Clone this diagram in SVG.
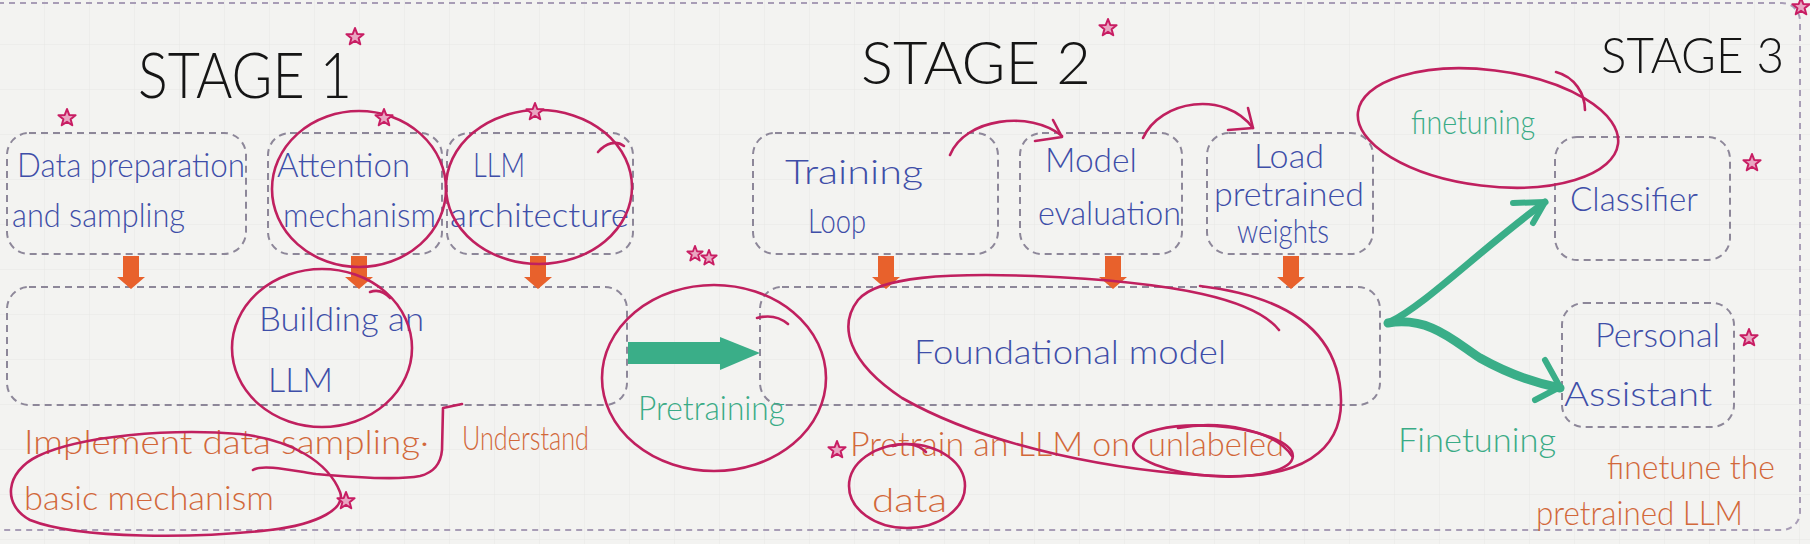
<svg xmlns="http://www.w3.org/2000/svg" xmlns:xlink="http://www.w3.org/1999/xlink" width="1810" height="544" viewBox="0 0 1810 544">
<defs>
<pattern id="grid" width="45" height="45" patternUnits="userSpaceOnUse">
<path d="M45,0 V45 M0,45 H45" fill="none" stroke="#e7e7e5" stroke-width="1"/>
</pattern>
<symbol id="star" viewBox="-10 -10 20 20" overflow="visible">
<polygon points="0,-9 2.23,-3.07 8.56,-2.78 3.61,1.17 5.29,7.28 0,3.8 -5.29,7.28 -3.61,1.17 -8.56,-2.78 -2.23,-3.07" fill="#e9a6c2" stroke="#c81d63" stroke-width="2" stroke-linejoin="round"/>
</symbol>
<path id="oarrow" d="M-8,0 H8 V21 H14 L0,33 L-14,21 H-8 Z" fill="#e8612c"/>
<style>
.box{fill:none;stroke:#8d8799;stroke-width:2;stroke-dasharray:7 5}
.frame{fill:none;stroke:#a89db6;stroke-width:2;stroke-dasharray:6 5}
.t{font-family:Lato,"Open Sans","Liberation Sans",sans-serif;font-weight:300;font-size:34px}
.blue{fill:#3e4ea8}
.orange{fill:#d2683a}
.green{fill:#3aab86}
.title{font-family:Lato,"Open Sans","Liberation Sans",sans-serif;font-weight:300;fill:#151515}
.pink{fill:none;stroke:#c0205f;stroke-width:2.6;stroke-linecap:round;stroke-linejoin:round}
.gstroke{fill:none;stroke:#3aae88;stroke-linecap:round;stroke-linejoin:round}
</style>
</defs>

<rect width="1810" height="544" fill="#f3f3f1"/>
<rect width="1810" height="544" fill="url(#grid)"/>
<rect class="frame" x="-20" y="3" width="1820" height="527" rx="18"/>

<!-- Titles -->
<g id="titles">
<text class="title" x="138" y="98" font-size="64" textLength="214" lengthAdjust="spacingAndGlyphs">STAGE 1</text>
<text class="title" x="861" y="84" font-size="60" textLength="230" lengthAdjust="spacingAndGlyphs">STAGE 2</text>
<text class="title" x="1601" y="73" font-size="50" textLength="183" lengthAdjust="spacingAndGlyphs">STAGE 3</text>
</g>

<!-- Stage 1 nodes -->
<g id="node-data-prep">
<rect class="box" x="7" y="133" width="239" height="121" rx="22"/>
<text class="t blue" x="17" y="177" font-size="33" textLength="228" lengthAdjust="spacingAndGlyphs">Data preparation</text>
<text class="t blue" x="12" y="227" font-size="32" textLength="173" lengthAdjust="spacingAndGlyphs">and sampling</text>
</g>
<g id="node-attention">
<rect class="box" x="268" y="133" width="174" height="121" rx="22"/>
<text class="t blue" x="277" y="177" textLength="133" lengthAdjust="spacingAndGlyphs">Attention</text>
<text class="t blue" x="283" y="227" font-size="33" textLength="153" lengthAdjust="spacingAndGlyphs">mechanism</text>
</g>
<g id="node-llm-arch">
<rect class="box" x="447" y="133" width="186" height="121" rx="22"/>
<text class="t blue" x="473" y="177" textLength="52" lengthAdjust="spacingAndGlyphs">LLM</text>
<text class="t blue" x="450" y="227" font-size="36" textLength="179" lengthAdjust="spacingAndGlyphs">architecture</text>
</g>
<g id="node-building">
<rect class="box" x="7" y="287" width="620" height="118" rx="22"/>
<text class="t blue" x="259" y="331" font-size="36" textLength="165" lengthAdjust="spacingAndGlyphs">Building an</text>
<text class="t blue" x="268" y="392" font-size="37" textLength="65" lengthAdjust="spacingAndGlyphs">LLM</text>
</g>

<!-- Stage 2 nodes -->
<g id="node-training">
<rect class="box" x="753" y="133" width="245" height="121" rx="22"/>
<text class="t blue" x="785" y="184" font-size="40" textLength="138" lengthAdjust="spacingAndGlyphs">Training</text>
<text class="t blue" x="808" y="233" textLength="58" lengthAdjust="spacingAndGlyphs">Loop</text>
</g>
<g id="node-model-eval">
<rect class="box" x="1020" y="133" width="162" height="121" rx="22"/>
<text class="t blue" x="1045" y="172" font-size="36" textLength="92" lengthAdjust="spacingAndGlyphs">Model</text>
<text class="t blue" x="1038" y="225" textLength="143" lengthAdjust="spacingAndGlyphs">evaluation</text>
</g>
<g id="node-load">
<rect class="box" x="1207" y="133" width="166" height="121" rx="22"/>
<text class="t blue" x="1254" y="168" font-size="35" textLength="70" lengthAdjust="spacingAndGlyphs">Load</text>
<text class="t blue" x="1214" y="206" font-size="35" textLength="150" lengthAdjust="spacingAndGlyphs">pretrained</text>
<text class="t blue" x="1237" y="243" font-size="32" textLength="92" lengthAdjust="spacingAndGlyphs">weights</text>
</g>
<g id="node-foundational">
<rect class="box" x="760" y="287" width="620" height="118" rx="22"/>
<text class="t blue" x="914" y="364" font-size="44" textLength="312" lengthAdjust="spacingAndGlyphs">Foundational model</text>
</g>

<!-- Stage 3 nodes -->
<g id="node-classifier">
<rect class="box" x="1555" y="137" width="175" height="123" rx="22"/>
<text class="t blue" x="1570" y="211" font-size="35" textLength="128" lengthAdjust="spacingAndGlyphs">Classifier</text>
</g>
<g id="node-assistant">
<rect class="box" x="1562" y="303" width="172" height="124" rx="22"/>
<text class="t blue" x="1595" y="347" font-size="36" textLength="125" lengthAdjust="spacingAndGlyphs">Personal</text>
<text class="t blue" x="1564" y="406" font-size="38" textLength="148" lengthAdjust="spacingAndGlyphs">Assistant</text>
</g>

<!-- Labels / notes -->
<g id="labels">
<text class="t green" x="638" y="420" textLength="147" lengthAdjust="spacingAndGlyphs">Pretraining</text>
<text class="t green" x="1411" y="134" font-size="33" textLength="124" lengthAdjust="spacingAndGlyphs">finetuning</text>
<text class="t green" x="1398" y="452" font-size="36" textLength="158" lengthAdjust="spacingAndGlyphs">Finetuning</text>
<text class="t orange" x="24" y="454" font-size="37" textLength="405" lengthAdjust="spacingAndGlyphs">Implement data sampling·</text>
<text class="t orange" x="462" y="450" font-size="32" textLength="127" lengthAdjust="spacingAndGlyphs">Understand</text>
<text class="t orange" x="24" y="510" font-size="36" textLength="250" lengthAdjust="spacingAndGlyphs">basic mechanism</text>
<text class="t orange" x="850" y="456" font-size="34.5" textLength="280" lengthAdjust="spacingAndGlyphs">Pretrain an LLM on</text>
<text class="t orange" x="1148" y="456" textLength="136" lengthAdjust="spacingAndGlyphs">unlabeled</text>
<text class="t orange" x="872" y="512" font-size="38" textLength="75" lengthAdjust="spacingAndGlyphs">data</text>
<text class="t orange" x="1607" y="479" font-size="33" textLength="168" lengthAdjust="spacingAndGlyphs">finetune the</text>
<text class="t orange" x="1536" y="525" font-size="33" textLength="207" lengthAdjust="spacingAndGlyphs">pretrained LLM</text>
</g>

<!-- Connectors -->
<g id="connectors">
<use href="#oarrow" x="131" y="256"/>
<use href="#oarrow" x="359" y="256"/>
<use href="#oarrow" x="538" y="256"/>
<use href="#oarrow" x="886" y="256"/>
<use href="#oarrow" x="1113" y="256"/>
<use href="#oarrow" x="1291" y="256"/>
<polygon points="628,342 720,342 720,337 760,353 720,370 720,364 628,364" fill="#3aae88"/>
<path class="gstroke" stroke-width="7" d="M1390,322 C1425,305 1480,250 1545,202"/>
<path class="gstroke" stroke-width="6" d="M1513,203 L1545,202 L1533,223"/>
<path class="gstroke" stroke-width="9" d="M1388,323 C1430,316 1455,342 1480,358 C1505,372 1530,382 1560,388"/>
<path class="gstroke" stroke-width="6" d="M1545,360 L1560,387 L1535,400"/>
<path class="pink" d="M950,155 C965,118 1030,110 1062,136"/>
<path class="pink" d="M1035,141 L1062,137 L1053,120"/>
<path class="pink" d="M1143,138 C1160,100 1225,90 1253,128"/>
<path class="pink" d="M1228,130 L1253,128 L1248,108"/>
</g>

<!-- Pink annotation circles -->
<g id="annotations">
<ellipse class="pink" cx="359" cy="189" rx="87" ry="78"/>
<ellipse class="pink" cx="539" cy="187" rx="93" ry="77"/>
<path class="pink" d="M598,152 C606,143 616,140 624,146"/>
<ellipse class="pink" cx="322" cy="348" rx="90" ry="79"/>
<path class="pink" d="M370,292 Q381,288 390,298"/>
<ellipse class="pink" cx="714" cy="378" rx="112" ry="93"/>
<path class="pink" d="M757,318 Q775,313 788,324"/>
<path class="pink" d="M1279,330 C1255,300 1180,282 1034,276 C950,273 878,276 858,300 C838,326 848,362 902,398 C990,448 1120,472 1220,476 C1300,479 1342,452 1341,400 C1340,340 1300,298 1200,286"/>
<ellipse class="pink" cx="1213" cy="451" rx="80" ry="25" transform="rotate(4 1213 451)"/>
<path class="pink" d="M1178,428 C1220,420 1275,430 1292,456"/>
<ellipse class="pink" cx="907" cy="486" rx="58" ry="42"/>
<path class="pink" d="M893,446 C905,442 918,444 926,452"/>
<ellipse class="pink" cx="1488" cy="128" rx="131" ry="58" transform="rotate(7 1488 128)"/>
<path class="pink" d="M1556,72 C1575,77 1585,94 1585,110"/>
<path class="pink" d="M340,492 C328,462 292,440 240,434 C170,428 80,436 38,456 C5,472 2,505 30,520 C80,540 200,538 270,530 C320,524 346,508 340,492"/>
<path class="pink" d="M253,470 C262,464 290,470 316,474 C360,478 400,480 420,476 C436,472 441,462 442,450 L443,408 L462,404"/>
</g>

<!-- Stars -->
<g id="stars">
<use href="#star" x="345" y="27" width="20" height="20"/>
<use href="#star" x="1098" y="18" width="20" height="20"/>
<use href="#star" x="1791" y="-3" width="20" height="20"/>
<use href="#star" x="57" y="108" width="20" height="20"/>
<use href="#star" x="374" y="108" width="20" height="20"/>
<use href="#star" x="525" y="102" width="20" height="20"/>
<use href="#star" x="686" y="245" width="18" height="18"/>
<use href="#star" x="700" y="249" width="18" height="18"/>
<use href="#star" x="1742" y="153" width="20" height="20"/>
<use href="#star" x="1739" y="328" width="20" height="20"/>
<use href="#star" x="336" y="491" width="20" height="20"/>
<use href="#star" x="827" y="440" width="20" height="20"/>
</g>
</svg>
